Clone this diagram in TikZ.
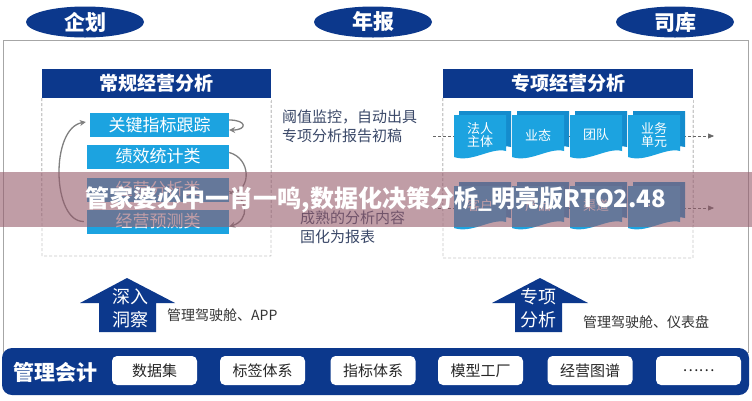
\documentclass[tikz,border=0pt]{standalone}
\usepackage{fontspec}
\setmainfont{Noto Sans CJK SC}
\usetikzlibrary{shapes.geometric}
\usetikzlibrary{arrows.meta}
\definecolor{navy}{RGB}{12,56,140}
\definecolor{sky}{RGB}{28,163,224}
\definecolor{skyback}{RGB}{20,140,205}
\definecolor{txtgray}{RGB}{58,72,104}
\definecolor{band}{RGB}{150,92,108}
\newcommand{\fsz}[1]{\fontsize{#1}{#1}\selectfont}
\tikzset{
  oval/.style={ellipse, fill=navy, text=white, minimum width=118, minimum height=31, inner sep=0pt, font=\fsz{21}\bfseries},
  headbar/.style={rectangle, fill=navy, text=white, minimum height=29, inner sep=0pt, font=\fsz{19}\bfseries},
  itembox/.style={rectangle, fill=sky, text=white, minimum height=24, inner sep=0pt, font=\fsz{17}},
  tiletext/.style={text=white, align=center, font=\fsz{13}, inner sep=0pt},
  note/.style={text=txtgray, align=left, anchor=north west, font=\fsz{15}, inner sep=0pt},
  cockpit/.style={text=black!80, anchor=west, font=\fsz{14}, inner sep=0pt},
  whitebox/.style={rectangle, rounded corners=5, fill=white, text=black!85, minimum width=85, minimum height=29, inner sep=0pt, font=\fsz{15}},
  loop/.style={gray, line width=1.3pt, -{Stealth[length=6pt,width=6pt]}},
  flow/.style={densely dashed, gray!80!black, line width=0.5pt, -{Triangle[length=6pt,width=5pt]}}
}
% one tile of the special analysis block, a page with a wavy foot
\newcommand{\tile}[4]{%
  \fill[skyback] ({#1+5},{#2-4}) -- ++(52,0) -- ++(0,36) .. controls ({#1+42},{#2+28}) and ({#1+22},{#2+44}) .. ({#1+5},{#2+38}) -- cycle;
  \fill[sky] (#1,#2) -- ++(52,0) -- ++(0,36) .. controls ({#1+37},{#2+32}) and ({#1+18},{#2+48}) .. (#1,{#2+42}) -- cycle;
  \node[tiletext] (#3) at ({#1+26},{#2+20}) {#4};
}
\begin{document}
\begin{tikzpicture}[x=1pt,y=-1pt]
\useasboundingbox (0,0) rectangle (752,400);
\fill[white] (0,0) rectangle (752,400);
% outer frame and the three ovals
\draw[gray!70] (3,40) rectangle (748,352);
\node[oval] (qihua) at (85,22) {企划};
\node[oval] (nianbao) at (373,22) {年报};
\node[oval] (siku) at (675,22) {司库};

% left block
\node[headbar, minimum width=229] (hdA) at (156.5,83.5) {常规经营分析};
\draw[densely dashed, gray!80!black] (hdA.south west) -- (42,256) -- (271,256) -- (hdA.south east);
\node[itembox, minimum width=139] (i1) at (159.5,125) {关键指标跟踪};
\node[itembox, minimum width=142] (i2) at (158,156.5) {绩效统计类};
\node[itembox, minimum width=142] (i3) at (158,189.5) {经营分析类};
\node[itembox, minimum width=142] (i4) at (158,221.5) {经营预测类};
\draw[loop] ([xshift=-3pt]i4.west) .. controls (52,222) and (50,128) .. ([xshift=-4pt,yshift=3pt]i1.west);
\draw[loop] ([yshift=5pt]i1.east) .. controls +(18,0) and +(18,0) .. ([yshift=-5pt]i1.east);
\draw[loop] ([yshift=4pt]i2.east) .. controls +(22,6) and +(22,-4) .. ([yshift=-4pt]i3.east);
\draw[loop] ([yshift=-2pt]i3.east) .. controls +(20,6) and +(20,-6) .. ([yshift=-5pt]i4.east);

% middle notes
\node[note] (mon) at (282,110) {阈值监控，自动出具\\[4pt]专项分析报告初稿};
\node[note] (fix) at (300,211) {成熟的分析内容\\[4pt]固化为报表};

% right block
\node[headbar, minimum width=250] (hdB) at (568,83.5) {专项经营分析};
\draw[densely dashed, gray!80!black] (hdB.south west) -- (443,258) -- (693,258) -- (hdB.south east);
\coordinate (r1s) at (433,136);
\coordinate (r1e) at (714,136);
\coordinate (r2s) at (433,208);
\coordinate (r2e) at (714,208);
\draw[flow] (r1s) -- (r1e);
\draw[flow] (r2s) -- (r2e);
\tile{454}{115}{ta}{法人\\主体}
\tile{512}{115}{tb}{业态}
\tile{570}{115}{tc}{团队}
\tile{628}{115}{td}{业务\\单元}
\tile{454}{186}{tg}{客户}
\tile{512}{186}{th}{产品}
\tile{570}{186}{ti}{渠道}
\tile{628}{186}{tj}{…}

% up arrows
\fill[navy] (127,278) -- (175,303) -- (156,303) -- (156,332) -- (99,332) -- (99,303) -- (80,303) -- cycle;
\node[text=white, font=\fsz{18}, inner sep=0pt] (sr) at (130,297) {深入};
\node[text=white, font=\fsz{18}, inner sep=0pt] (dc) at (130,320) {洞察};
\node[cockpit] (appl) at (167,315) {管理驾驶舱、APP};
\fill[navy] (540,278) -- (588,303) -- (562,303) -- (562,332) -- (515,332) -- (515,303) -- (492,303) -- cycle;
\node[text=white, font=\fsz{18}, inner sep=0pt] (zx) at (538,297) {专项};
\node[text=white, font=\fsz{18}, inner sep=0pt] (fx) at (538,320) {分析};
\node[cockpit] (dash) at (583,322) {管理驾驶舱、仪表盘};

% bottom bar
\fill[navy, rounded corners=10] (2,348) rectangle (749,395);
\node[text=white, font=\fsz{21}\bfseries, inner sep=0pt] (glkj) at (55,372) {管理会计};
\node[whitebox] (b1) at (154.5,370.5) {数据集};
\node[whitebox] (b2) at (262.5,370.5) {标签体系};
\node[whitebox] (b3) at (373,370.5) {指标体系};
\node[whitebox] (b4) at (480.5,370.5) {模型工厂};
\node[whitebox] (b5) at (590,370.5) {经营图谱};
\node[whitebox] (b6) at (698.5,370.5) {……};

% banner across the middle
\fill[band, opacity=0.6] (0,172) rectangle (752,227);
\node[text=white, font=\fsz{24}\bfseries, inner sep=0pt] (banner) at (376,200) {管家婆必中一肖一鸣,数据化决策分析\_明亮版RTO2.48};
\end{tikzpicture}
\end{document}
